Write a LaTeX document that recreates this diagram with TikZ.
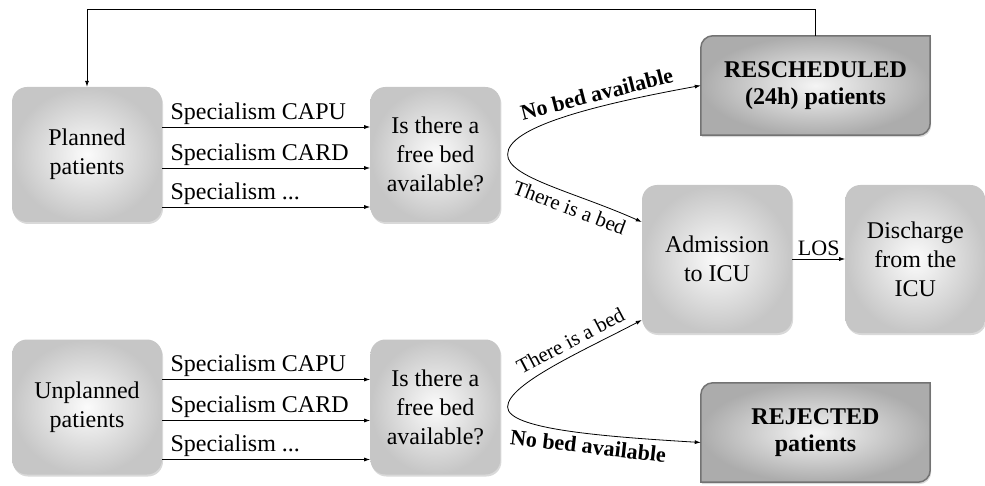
\documentclass[tikz,border=0pt]{standalone}
\usepackage{fontspec}
\setmainfont{Liberation Serif}
\usetikzlibrary{positioning,shadows,backgrounds,arrows.meta}
\begin{document}
\begin{tikzpicture}[x=1pt,y=1pt,>={Latex[length=6pt,width=4pt]},
    box/.style={rounded corners=15pt,inner color=gray!3,outer color=gray!45,align=center,font=\fontsize{24}{29}\selectfont,minimum height=135pt,drop shadow={shadow xshift=1pt,shadow yshift=-2pt,opacity=0.3}},
    outcome/.style={align=center,font=\fontsize{24}{27}\selectfont\bfseries,minimum width=229pt,minimum height=99pt},
    outshape/.style={draw=black!55,line width=1.5pt,inner color=gray!8,outer color=gray!65,drop shadow={shadow xshift=1pt,shadow yshift=-2pt,opacity=0.3}},
    spec/.style={above right,xshift=6pt,inner sep=2pt,font=\fontsize{24}{27}\selectfont},
    nobed/.style={sloped,font=\fontsize{22}{22}\selectfont\bfseries},
    bed/.style={sloped,font=\fontsize{21}{21}\selectfont},
    link/.style={->,line width=0.8pt}]
    \useasboundingbox (0,0) rectangle (985,485);
    \node[box,minimum width=150pt](plan) at (87,330.5){Planned\\patients};
    \node[box,minimum width=130pt](free1)[right=208pt of plan]{Is there a\\free bed\\available?};
    \node[box,minimum width=150pt](unplan) at (87,78){Unplanned\\patients};
    \node[box,minimum width=130pt](free2)[right=208pt of unplan]{Is there a\\free bed\\available?};
    \node[box,minimum width=150pt,minimum height=148pt](adm) at (717,226){Admission\\to ICU};
    \node[box,minimum width=140pt,minimum height=148pt](dis)[right=53pt of adm]{Discharge\\from the\\ICU};
    \node[outcome](res) at (815.5,399.5){RESCHEDULED\\(24h) patients};
    \node[outcome](rej) at (815.5,52.5){REJECTED\\patients};
    \begin{scope}[on background layer]
        \foreach \n in {res,rej}
            \path[outshape] (\n.south west) -- ([yshift=-12pt]\n.north west) arc[start angle=180,end angle=90,radius=12pt] -- (\n.north east) -- ([yshift=12pt]\n.south east) arc[start angle=0,end angle=-90,radius=12pt] -- cycle;
    \end{scope}
    \draw[link]([yshift=27.5pt]plan.east) -- ([yshift=27.5pt]free1.west) node[spec,pos=0](p1){Specialism CAPU};
    \draw[link]([yshift=-13.5pt]plan.east) -- ([yshift=-13.5pt]free1.west) node[spec,pos=0](p2){Specialism CARD};
    \draw[link]([yshift=-52.5pt]plan.east) -- ([yshift=-52.5pt]free1.west) node[spec,pos=0](p3){Specialism ...};
    \draw[link]([yshift=27.5pt]unplan.east) -- ([yshift=27.5pt]free2.west) node[spec,pos=0](u1){Specialism CAPU};
    \draw[link]([yshift=-13.5pt]unplan.east) -- ([yshift=-13.5pt]free2.west) node[spec,pos=0](u2){Specialism CARD};
    \draw[link]([yshift=-52.5pt]unplan.east) -- ([yshift=-52.5pt]free2.west) node[spec,pos=0](u3){Specialism ...};
    \draw[link]([xshift=7pt]free1.east) .. controls +(0,27) and +(-110,-20) .. (res.west) node[nobed,pos=0.66,above=2pt](nb1){No bed available};
    \draw[link]([xshift=7pt]free1.east) .. controls +(0,-23) and +(-67,30) .. ([yshift=37pt]adm.west) node[bed,pos=0.65,below=2pt](b1){There is a bed};
    \draw[link]([xshift=7pt]free2.east) .. controls +(0,23) and +(-57,-30) .. ([yshift=-61pt]adm.west) node[bed,pos=0.64,above=3pt](b2){There is a bed};
    \draw[link]([xshift=7pt]free2.east) .. controls +(0,-22) and +(-100,6) .. ([yshift=-10pt]rej.west) node[nobed,pos=0.6,below=1pt](nb2){No bed available};
    \draw[link](adm) -- (dis) node[midway,above,font=\fontsize{22}{24}\selectfont](los){LOS};
    \draw[link](res.north) -- ++(0,26) -| (plan.north);
\end{tikzpicture}
\end{document}
